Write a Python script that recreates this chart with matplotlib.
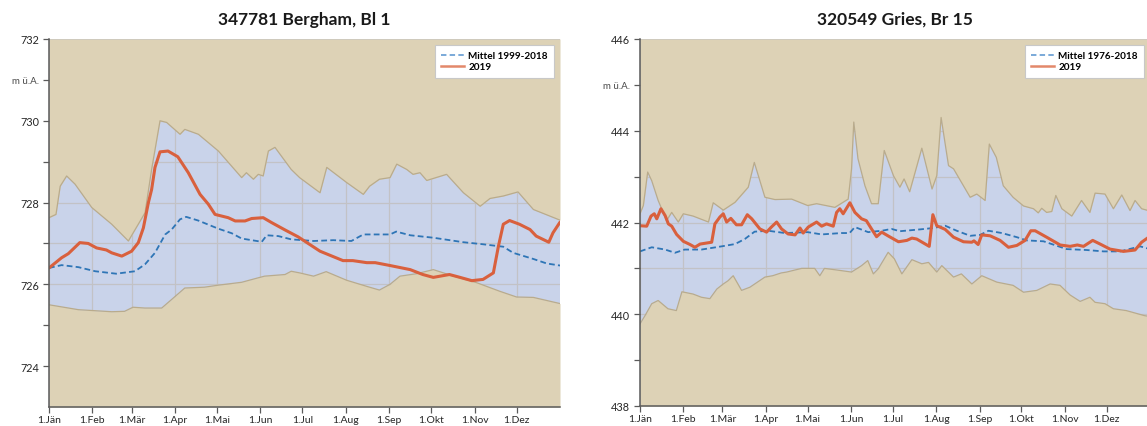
import matplotlib
matplotlib.use("Agg")
import matplotlib.pyplot as plt
from matplotlib.lines import Line2D

# ---------------- data ----------------
month_labels = ["1.Jän", "1.Feb", "1.Mär", "1.Apr", "1.Mai", "1.Jun",
                "1.Jul", "1.Aug", "1.Sep", "1.Okt", "1.Nov", "1.Dez"]
month_starts = [0, 31, 59, 90, 120, 151, 181, 212, 243, 273, 304, 334]

# Bergham (left)
berg_title = "347781 Bergham, Bl 1"
berg_mean_label = "Mittel 1999-2018"
berg_upper_days = [0, 5, 8, 12.6, 18.6, 30.5, 44.8, 56.7, 68.6, 73.3, 79.3, 84, 93.6, 97, 106.7,
                   121, 137.6, 141, 146, 149.5, 153, 156.7, 161.4, 173, 179, 193.6, 198.4, 212.6,
                   224.5, 229, 236, 243.6, 248.4, 255.5, 260, 265, 269.8, 284, 296, 308, 315,
                   324.5, 335, 346, 365]
berg_upper_vals = [727.63, 727.71, 728.40, 728.65, 728.45, 727.88, 727.47, 727.06, 727.75, 728.81,
                   730.0, 729.96, 729.67, 729.79, 729.67, 729.26, 728.61, 728.73, 728.57, 728.69,
                   728.65, 729.26, 729.35, 728.81, 728.61, 728.24, 728.86, 728.49, 728.20, 728.40,
                   728.57, 728.61, 728.94, 728.81, 728.69, 728.73, 728.54, 728.69, 728.24, 727.91,
                   728.10, 728.16, 728.26, 727.83, 727.57]
berg_lower_days = [0, 21, 44.8, 54, 60, 68.6, 80.5, 87.6, 97, 111, 121, 137.6, 149.5, 154, 168.6,
                   173, 179, 189, 198, 212.6, 227, 236, 243.6, 250.7, 262.6, 274.5, 289, 305.5,
                   322, 334, 346, 365]
berg_lower_vals = [725.50, 725.38, 725.33, 725.34, 725.44, 725.42, 725.42, 725.63, 725.91, 725.93,
                   725.98, 726.05, 726.16, 726.20, 726.24, 726.32, 726.28, 726.20, 726.31, 726.10,
                   725.95, 725.86, 726.00, 726.20, 726.26, 726.36, 726.20, 726.04, 725.83, 725.69,
                   725.68, 725.53]
berg_mean_days = [0, 9, 21, 33, 48, 61.4, 68.6, 75.7, 83, 87.6, 93.6, 98, 106.6, 121, 130.5, 137.6,
                  152, 155.5, 163.8, 173, 189, 203, 216, 224.5, 243.6, 248, 258, 274.5, 296, 310,
                  324.5, 331.6, 346, 355.5, 365]
berg_mean_vals = [726.40, 726.47, 726.42, 726.32, 726.26, 726.32, 726.49, 726.77, 727.22, 727.34,
                  727.59, 727.65, 727.56, 727.36, 727.25, 727.12, 727.04, 727.20, 727.18, 727.10,
                  727.06, 727.08, 727.06, 727.22, 727.22, 727.29, 727.20, 727.14, 727.03, 726.98,
                  726.92, 726.77, 726.62, 726.51, 726.46]
berg_2019_days = [0, 9, 13.8, 22, 28, 34, 41, 44.8, 52, 59, 63.8, 67.4, 71, 73.3, 75.7, 79.3, 85,
                  92, 99.5, 107.9, 113.8, 118.6, 128, 133, 140, 144.8, 153, 159, 168.6, 178,
                  193.6, 210, 217, 227, 233, 243.6, 258, 267, 274.5, 286, 293.6, 302, 310, 317.4,
                  321, 324.5, 329, 336, 343.6, 348, 357, 360, 365]
berg_2019_vals = [726.40, 726.65, 726.75, 727.02, 727.00, 726.89, 726.84, 726.77, 726.69, 726.81,
                  727.02, 727.38, 728.00, 728.32, 728.86, 729.24, 729.26, 729.12, 728.73, 728.20,
                  727.96, 727.71, 727.63, 727.55, 727.55, 727.61, 727.63, 727.51, 727.33, 727.16,
                  726.81, 726.58, 726.58, 726.53, 726.53, 726.46, 726.36, 726.24, 726.17, 726.24,
                  726.17, 726.09, 726.12, 726.28, 726.93, 727.47, 727.56, 727.47, 727.34, 727.18,
                  727.03, 727.26, 727.52]

# Gries (right)
gries_title = "320549 Gries, Br 15"
gries_mean_label = "Mittel 1976-2018"
gries_upper_days = [0, 2.4, 5.5, 8.4, 13, 15.5, 19, 22.7, 27.4, 31, 38, 49, 52.4, 59.6, 68, 77.5,
                    81.8, 85.8, 89.4, 96.6, 108.5, 120, 126.4, 139.5, 149, 151.4, 153, 156, 161,
                    165.7, 170.5, 174.8, 181.4, 186, 189, 193, 201.7, 209, 212.4, 215.5, 220.8,
                    224.4, 236.3, 241, 247, 250, 255, 260, 267, 274.5, 281.6, 285, 287.5, 291,
                    294.7, 297.6, 301.9, 309, 316, 322, 325.7, 332.8, 338.8, 344.8, 350.7, 354.3,
                    359, 365]
gries_upper_vals = [442.19, 442.37, 443.10, 442.91, 442.48, 442.30, 442.04, 442.22, 442.01, 442.19,
                    442.14, 442.01, 442.43, 442.27, 442.44, 442.77, 443.31, 442.91, 442.55, 442.50,
                    442.51, 442.37, 442.41, 442.33, 442.51, 443.17, 444.19, 443.39, 442.80, 442.41,
                    442.41, 443.57, 443.02, 442.77, 442.95, 442.67, 443.62, 442.73, 443.02, 444.29,
                    443.24, 443.17, 442.55, 442.62, 442.48, 443.71, 443.42, 442.80, 442.55, 442.36,
                    442.30, 442.21, 442.31, 442.22, 442.24, 442.59, 442.30, 442.14, 442.48, 442.22,
                    442.64, 442.62, 442.30, 442.60, 442.26, 442.48, 442.30, 442.25]
gries_lower_days = [0, 3.6, 8.4, 13, 20, 26, 30, 38, 44, 50, 55, 59.6, 63, 66.7, 72.7, 78.7, 89.4,
                    95, 101, 105, 115.7, 125, 128.7, 132, 139.5, 151.4, 158.6, 163, 167, 170.5,
                    177.6, 182, 187.4, 194.6, 201.7, 206.5, 212.4, 216, 224.4, 230, 237.5, 244.6,
                    255.4, 267, 274.5, 284, 293.5, 300.6, 307.8, 315, 322, 325.7, 332.8, 338.8,
                    348, 361, 365]
gries_lower_vals = [439.79, 439.97, 440.23, 440.30, 440.12, 440.08, 440.49, 440.44, 440.37, 440.34,
                    440.55, 440.66, 440.73, 440.84, 440.52, 440.59, 440.81, 440.84, 440.90, 440.92,
                    441.00, 441.00, 440.84, 441.00, 440.97, 440.92, 441.06, 441.17, 440.88, 440.99,
                    441.35, 441.21, 440.88, 441.19, 441.10, 441.13, 440.92, 441.06, 440.81, 440.88,
                    440.66, 440.84, 440.70, 440.63, 440.48, 440.52, 440.66, 440.63, 440.42, 440.28,
                    440.37, 440.26, 440.23, 440.12, 440.08, 439.97, 439.95]
gries_mean_days = [0, 8.4, 18, 25, 32, 44, 58.4, 68, 75, 82, 91.8, 103.7, 120, 130, 144, 150, 153.8,
                   163.3, 173, 180, 186, 200.5, 210, 218.4, 226.7, 236.3, 243.4, 249.4, 259, 269.7,
                   276.8, 288.8, 305.4, 319.7, 331.7, 343.6, 357.9, 365]
gries_mean_vals = [441.37, 441.46, 441.41, 441.34, 441.41, 441.41, 441.48, 441.53, 441.64, 441.80,
                   441.82, 441.77, 441.79, 441.74, 441.77, 441.77, 441.90, 441.79, 441.82, 441.86,
                   441.81, 441.85, 441.88, 441.93, 441.82, 441.71, 441.73, 441.82, 441.77, 441.68,
                   441.61, 441.59, 441.42, 441.40, 441.37, 441.37, 441.48, 441.42]
gries_2019_days = [0, 4.8, 7.9, 10.2, 12, 15, 18, 20.3, 22.7, 26.2, 31, 35.8, 39.3, 43, 51.3, 53.6,
                   57.2, 59.6, 62, 65, 69, 72.7, 76.8, 80, 85.8, 90.6, 94, 97.8, 101.3, 106, 111,
                   114.5, 116.8, 120.4, 126.4, 130, 133.5, 138.3, 140.7, 143, 145.4, 150.2, 153.8,
                   158.6, 162, 165.7, 169.3, 173, 178, 185, 191, 194.6, 198, 207, 209.6, 212.4,
                   218.4, 224.4, 231.5, 237.5, 239, 242, 244.6, 250.6, 257.7, 263.7, 269.7, 275.6,
                   279.7, 282.8, 291, 300.7, 307.8, 313, 317.4, 324, 329.3, 336.4, 346, 354.3,
                   359, 365]
gries_2019_vals = [441.93, 441.92, 442.14, 442.19, 442.08, 442.30, 442.15, 441.97, 441.92, 441.74,
                   441.59, 441.52, 441.46, 441.53, 441.57, 441.97, 442.12, 442.19, 442.01, 442.09,
                   441.95, 441.95, 442.17, 442.08, 441.86, 441.79, 441.90, 442.01, 441.86, 441.75,
                   441.73, 441.88, 441.77, 441.90, 442.01, 441.92, 441.97, 441.92, 442.22, 442.30,
                   442.19, 442.43, 442.22, 442.08, 442.04, 441.86, 441.69, 441.79, 441.70, 441.58,
                   441.61, 441.66, 441.64, 441.48, 442.17, 441.93, 441.85, 441.68, 441.58, 441.57,
                   441.60, 441.52, 441.73, 441.71, 441.61, 441.46, 441.50, 441.61, 441.82, 441.82,
                   441.68, 441.51, 441.48, 441.51, 441.48, 441.61, 441.53, 441.42, 441.37, 441.40,
                   441.57, 441.70]

unit_label = "m ü.A."
series_2019_label = "2019"

# ---------------- style ----------------
TAN = "#DDD2B6"
BAND = "#C9D3EA"
EDGE = "#B9AB8C"
GRID = "#C2C2C6"
RED = "#D9603D"
BLUE = "#2E75B6"
TXT = "#262626"
SPINE = "#5A5A5A"

plt.rcParams["font.family"] = ["Lato", "DejaVu Sans"]

fig = plt.figure(figsize=(11.47, 4.27), dpi=100)
W, H = 1147, 427


def panel(rect_px, title, mean_label, ylim, major, minor,
          up_d, up_v, lo_d, lo_v, mn_d, mn_v, y19_d, y19_v):
    x0, y0, x1, y1 = rect_px
    ax = fig.add_axes([x0 / W, (H - y1) / H, (x1 - x0) / W, (y1 - y0) / H])
    ax.set_facecolor(BAND)
    ax.set_xlim(0, 365)
    ax.set_ylim(*ylim)
    ax.set_axisbelow(True)
    ax.set_xticks(month_starts)
    ax.set_xticklabels(month_labels)
    ax.set_yticks(major)
    ax.set_yticklabels([str(v) for v in major])
    ax.set_yticks(minor, minor=True)
    ax.set_yticklabels(["" for _ in minor[:-1]] + [unit_label], minor=True)
    ax.grid(True, axis="y", which="both", color=GRID, lw=0.9)
    ax.grid(True, axis="x", which="major", color=GRID, lw=0.9)

    ax.fill_between(lo_d, lo_v, ylim[0], color=TAN, lw=0, zorder=2)
    ax.fill_between(up_d, up_v, ylim[1], color=TAN, lw=0, zorder=2)
    ax.plot(lo_d, lo_v, color=EDGE, lw=0.9, zorder=2.5)
    ax.plot(up_d, up_v, color=EDGE, lw=0.9, zorder=2.5)

    ax.plot(mn_d, mn_v, color=BLUE, lw=1.3, ls=(0, (3.2, 1.8)), zorder=3)
    ax.plot(y19_d, y19_v, color=RED, lw=2.2, zorder=4, solid_capstyle="round")

    for s in ("top", "right"):
        ax.spines[s].set_visible(False)
    for s in ("left", "bottom"):
        ax.spines[s].set_color(SPINE)
        ax.spines[s].set_linewidth(1.1)
        ax.spines[s].set_zorder(5)
    ax.tick_params(axis="both", which="both", direction="out", length=4,
                   width=0.9, color=SPINE, labelcolor=TXT)
    ax.tick_params(axis="y", which="major", labelsize=7.8, pad=3)
    ax.tick_params(axis="x", which="major", labelsize=7.5, pad=1.5)
    ax.tick_params(axis="y", which="minor", labelsize=7, labelcolor="#4a4a4a", pad=3)

    handles = [Line2D([], [], color="#6FA3D6", lw=1.3, ls=(0, (3.0, 1.8))),
               Line2D([], [], color="#E3886A", lw=1.8)]
    leg = ax.legend(handles, [mean_label, series_2019_label], loc="upper right",
                    prop={"weight": "bold", "size": 7.2}, frameon=True, fancybox=False,
                    edgecolor="#C8C8C8", framealpha=1, borderaxespad=0.6,
                    handlelength=2.3, handletextpad=0.5, borderpad=0.6, labelspacing=0.25)
    leg.get_frame().set_linewidth(0.8)
    leg.set_zorder(6)

    cx = (x0 + x1) / 2 / W
    fig.text(cx, 1 - 20 / H, title, ha="center", va="center",
             fontsize=12.5, fontweight="bold", color="#1a1a1a")
    return ax


panel((49, 40, 560, 408), berg_title, berg_mean_label, (723, 732),
      [724, 726, 728, 730, 732], [725, 727, 729, 731],
      berg_upper_days, berg_upper_vals, berg_lower_days, berg_lower_vals,
      berg_mean_days, berg_mean_vals, berg_2019_days, berg_2019_vals)

panel((640, 40, 1150, 407), gries_title, gries_mean_label, (438, 446),
      [438, 440, 442, 444, 446], [439, 441, 443, 445],
      gries_upper_days, gries_upper_vals, gries_lower_days, gries_lower_vals,
      gries_mean_days, gries_mean_vals, gries_2019_days, gries_2019_vals)

fig.savefig("out.png", dpi=100, facecolor="white")
